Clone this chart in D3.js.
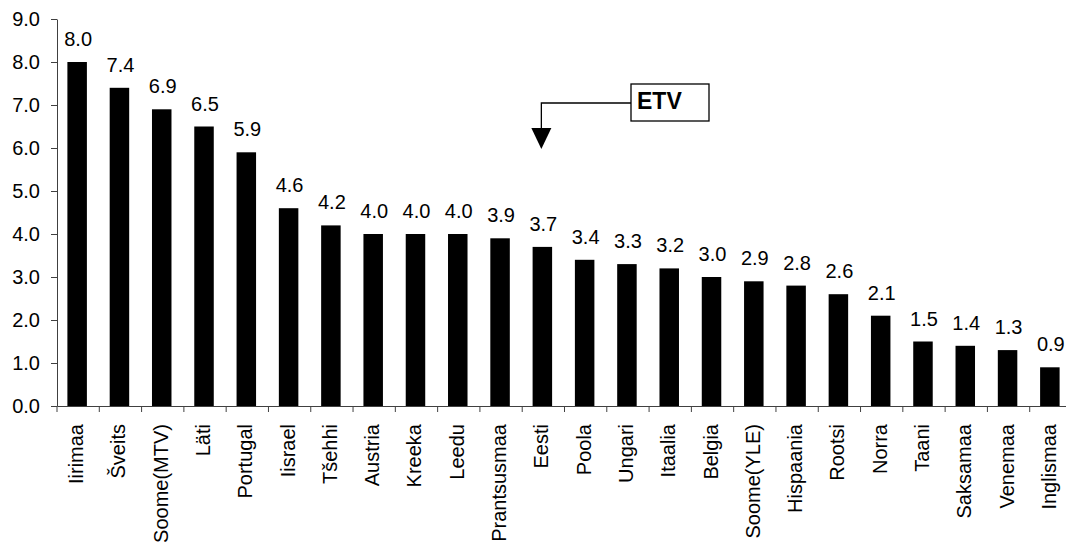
<!DOCTYPE html>
<html>
<head>
<meta charset="utf-8">
<script src="https://cdn.jsdelivr.net/npm/d3@7"></script>
<style>
  body { margin: 0; background: #fff; }
  text { font-family: "Liberation Sans", Arial, sans-serif; }
</style>
</head>
<body>
<svg id="chart" width="1066" height="548"></svg>
<script>
var countries = ["Iirimaa", "Šveits", "Soome(MTV)", "Läti", "Portugal", "Iisrael", "Tšehhi",
  "Austria", "Kreeka", "Leedu", "Prantsusmaa", "Eesti", "Poola", "Ungari", "Itaalia", "Belgia",
  "Soome(YLE)", "Hispaania", "Rootsi", "Norra", "Taani", "Saksamaa", "Venemaa", "Inglismaa"];
var values = [8.0, 7.4, 6.9, 6.5, 5.9, 4.6, 4.2, 4.0, 4.0, 4.0, 3.9, 3.7, 3.4, 3.3, 3.2, 3.0,
  2.9, 2.8, 2.6, 2.1, 1.5, 1.4, 1.3, 0.9];
var yTicks = [0, 1, 2, 3, 4, 5, 6, 7, 8, 9];
var markedCountry = "Eesti";
var markLabel = "ETV";

function draw() {
  var svg = d3.select("#chart");
  var mLeft = 57, mRight = 1072, mTop = 19, mBottom = 406;

  var x = d3.scaleBand().domain(countries).range([mLeft, mRight]).paddingInner(0).paddingOuter(0);
  var y = d3.scaleLinear().domain([0, 9]).range([mBottom, mTop]);

  var axisColor = "#404040";
  var fs = 20;

  // bars
  var barW = 19.5;
  svg.append("g").selectAll("rect")
     .data(countries)
     .enter().append("rect")
     .attr("x", function(d) { return x(d) + x.bandwidth() / 2 - barW / 2 - 1; })
     .attr("y", function(d, i) { return y(values[i]); })
     .attr("width", barW)
     .attr("height", function(d, i) { return mBottom - y(values[i]); })
     .attr("fill", "#000");

  // value labels
  svg.append("g").selectAll("text")
     .data(countries)
     .enter().append("text")
     .attr("x", function(d) { return x(d) + x.bandwidth() / 2; })
     .attr("y", function(d, i) { return y(values[i]) - 16; })
     .attr("text-anchor", "middle")
     .attr("font-size", fs)
     .text(function(d, i) { return values[i].toFixed(1); });

  // y axis
  var yAxis = svg.append("g")
     .attr("transform", "translate(" + mLeft + ",0)")
     .call(d3.axisLeft(y).tickValues(yTicks).tickSize(6).tickSizeOuter(0)
             .tickFormat(function(d) { return d.toFixed(1); }));
  yAxis.select(".domain").attr("stroke", axisColor);
  yAxis.selectAll(".tick line").attr("stroke", axisColor);
  yAxis.selectAll(".tick text").attr("font-size", fs).attr("fill", "#000")
       .attr("font-family", "Liberation Sans, Arial, sans-serif").attr("x", -17);

  // x axis
  var xAxis = svg.append("g")
     .attr("transform", "translate(0," + mBottom + ")")
     .call(d3.axisBottom(x).tickSize(0).tickSizeOuter(0).tickFormat(""));
  xAxis.select(".domain").attr("stroke", axisColor);
  svg.append("g").selectAll("line")
     .data(countries)
     .enter().append("line")
     .attr("x1", function(d) { return x(d); })
     .attr("x2", function(d) { return x(d); })
     .attr("y1", mBottom)
     .attr("y2", mBottom + 6)
     .attr("stroke", axisColor);

  // category labels
  svg.append("g").selectAll("text")
     .data(countries)
     .enter().append("text")
     .attr("transform", function(d) {
       return "translate(" + (x(d) + x.bandwidth() / 2 + 5) + "," + (mBottom + 18) + ") rotate(-90)";
     })
     .attr("text-anchor", "end")
     .attr("font-size", fs)
     .text(function(d) { return d; });

  // ETV annotation
  var cx = x(markedCountry) + x.bandwidth() / 2 - 2;
  var box = { x: 631, y: 84, w: 78, h: 37 };
  var ann = svg.append("g");
  ann.append("rect")
     .attr("x", box.x).attr("y", box.y).attr("width", box.w).attr("height", box.h)
     .attr("fill", "#fff").attr("stroke", "#000").attr("stroke-width", 1.3);
  ann.append("text")
     .attr("x", box.x + 6).attr("y", box.y + 25)
     .attr("font-size", 23).attr("font-weight", "bold")
     .text(markLabel);
  ann.append("path")
     .attr("d", "M" + box.x + "," + (box.y + 19) + " H" + cx + " V" + 130)
     .attr("fill", "none").attr("stroke", "#000").attr("stroke-width", 1.3);
  ann.append("path")
     .attr("d", "M" + (cx - 10) + ",128 L" + (cx + 10) + ",128 L" + cx + ",149 Z")
     .attr("fill", "#000");
}

draw();
</script>
</body>
</html>
